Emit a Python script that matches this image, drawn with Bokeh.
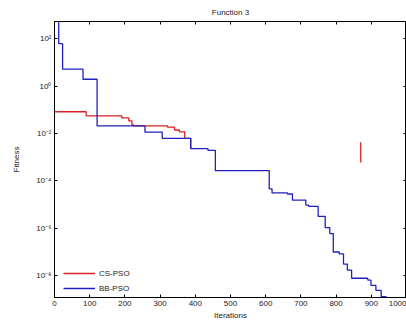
from bokeh.plotting import figure
from bokeh.models import Range1d, LinearAxis, LogAxis, FixedTicker, Legend, LegendItem, CustomJSTickFormatter
from bokeh.embed import file_html
from bokeh.resources import INLINE

title_text = "Function 3"
x_label = "Iterations"
y_label = "Fitness"

blue_name = "BB-PSO"
blue_iter = [0, 12, 23, 81, 121, 257, 306, 387, 436, 457, 610, 618, 662, 676, 714, 722,
             749, 769, 782, 792, 809, 821, 832, 844, 890, 899, 913, 928, 942, 1000]
blue_val = [1.2e3, 62, 5.2, 1.95, 0.021, 0.0115, 0.0063, 0.0023, 0.00195, 2.7e-4, 4.6e-5,
            3.1e-5, 2.8e-5, 1.55e-5, 9.5e-6, 8.5e-6, 3.2e-6, 1.07e-6, 6.0e-7, 1.0e-7, 8.3e-8,
            3.1e-8, 1.7e-8, 7.8e-9, 6.5e-9, 3.9e-9, 2.4e-9, 1.3e-9, 8e-10, 8e-10]

red_name = "CS-PSO"
red_iter = [0, 90, 191, 211, 220, 225, 321, 341, 355, 370, 387]
red_val = [0.083, 0.056, 0.046, 0.034, 0.023, 0.021, 0.0186, 0.0141, 0.0117, 0.0063, 0.0023]
red_tail_iter = [870, 870]
red_tail_val = [0.0043, 6.0e-4]

x_ticks = [0, 100, 200, 300, 400, 500, 600, 700, 800, 900, 1000]
y_ticks = [1e2, 1e0, 1e-2, 1e-4, 1e-6, 1e-8]
y_tick_labels = ["10²", "10⁰", "10⁻²", "10⁻⁴", "10⁻⁶", "10⁻⁸"]

FONT = "Liberation Sans"
RED = "#dd2020"
BLUE = "#2020c0"

p = figure(width=406, height=322, output_backend="svg", toolbar_location=None,
           y_axis_type="log", x_range=Range1d(0, 1000), y_range=Range1d(1.2e-9, 535),
           min_border_left=54, min_border_right=0, min_border_top=4, min_border_bottom=4)
p.background_fill_color = "white"
p.border_fill_color = "white"
p.grid.visible = False
p.outline_line_color = "black"
p.outline_line_width = 1

p.title.text = title_text
p.title.align = "center"
p.title.text_font = FONT
p.title.text_font_size = "8px"
p.title.text_font_style = "normal"
p.title.text_color = "#222222"

label_map = {t: l for t, l in zip(y_ticks, y_tick_labels)}

for ax in p.xaxis:
    ax.ticker = FixedTicker(ticks=x_ticks)
    ax.axis_label = x_label
for ax in p.yaxis:
    ax.ticker = FixedTicker(ticks=y_ticks)
    ax.major_label_overrides = label_map
    ax.axis_label = y_label

def style(ax):
    ax.axis_line_color = "black"
    ax.major_tick_line_color = "black"
    ax.major_tick_in = 3
    ax.major_tick_out = 0
    ax.minor_tick_line_color = None
    ax.major_label_text_font = FONT
    ax.major_label_text_font_size = "8px"
    ax.major_label_text_color = "#222222"
    ax.axis_label_text_font = FONT
    ax.axis_label_text_font_size = "8px"
    ax.axis_label_text_font_style = "normal"
    ax.axis_label_text_color = "#222222"
    ax.axis_label_standoff = 2
    ax.major_label_standoff = 3

for ax in p.xaxis + p.yaxis:
    style(ax)
for ax in p.yaxis:
    ax.axis_label_standoff = 12

blank = CustomJSTickFormatter(code="return ''")
top = LinearAxis(ticker=FixedTicker(ticks=x_ticks), formatter=blank)
right = LogAxis(ticker=FixedTicker(ticks=y_ticks), formatter=blank)
for ax in (top, right):
    style(ax)
    ax.major_label_standoff = 0
p.add_layout(top, "above")
p.add_layout(right, "right")

r_red = p.step(red_iter, red_val, mode="after", line_color=RED, line_width=1.3)
p.line(red_tail_iter, red_tail_val, line_color=RED, line_width=1.3)
r_blue = p.step(blue_iter, blue_val, mode="after", line_color=BLUE, line_width=1.3)

legend = Legend(items=[LegendItem(label=red_name, renderers=[r_red]),
                       LegendItem(label=blue_name, renderers=[r_blue])],
                location=(9, 3), label_text_font=FONT, label_text_font_size="8px",
                label_text_color="#222222", border_line_color=None, background_fill_alpha=0,
                glyph_width=32, glyph_height=12, label_height=12, spacing=3,
                padding=4, margin=0, label_standoff=4)
p.add_layout(legend)

open("out.html", "w").write(file_html(p, INLINE))
